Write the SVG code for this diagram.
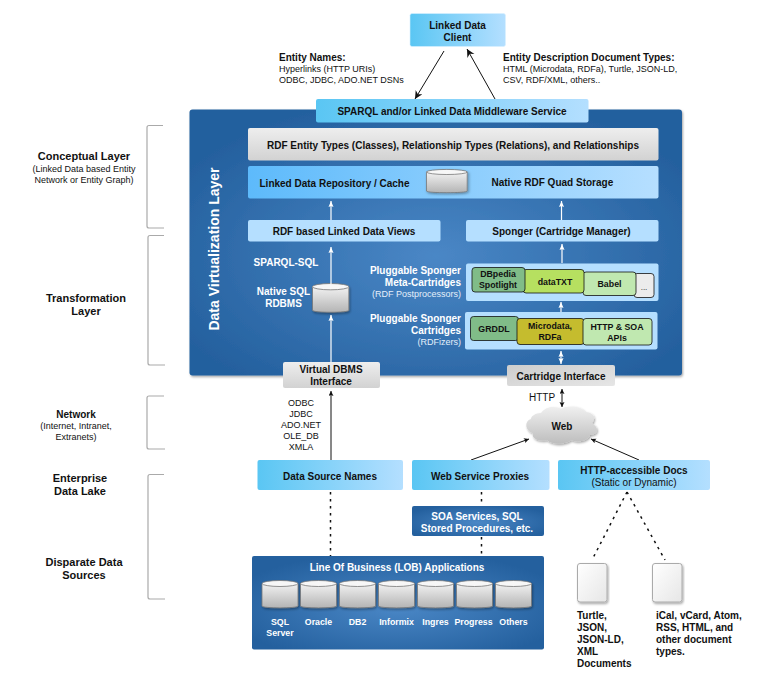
<svg xmlns="http://www.w3.org/2000/svg" xmlns:xlink="http://www.w3.org/1999/xlink" width="761" height="688" viewBox="0 0 761 688">
<style>
text{font-family:"Liberation Sans",Arial,sans-serif;font-size:10px;fill:#111}
.b{font-weight:bold}
.c{text-anchor:middle}
.e{text-anchor:end}
.w{fill:#fff}
.s{fill:#e4effa}
.n{font-size:8.8px}
.bk{fill:none;stroke:#aaa;stroke-width:1.2}
.a{fill:none;stroke:#111;stroke-width:1}
.wa{fill:none;stroke:#fff;stroke-width:1.2}
.d{fill:none;stroke:#111;stroke-width:1.5;stroke-dasharray:2.5 4.5}
.cart{stroke:#111;stroke-width:.8}
</style>
<defs>
<linearGradient id="lb" x1="0" y1="0" x2="1" y2="0"><stop offset="0" stop-color="#5ac6f3"/><stop offset="1" stop-color="#b4dfff"/></linearGradient>
<linearGradient id="repo" x1="0" y1="0" x2="1" y2="0"><stop offset="0" stop-color="#5dbafb"/><stop offset="1" stop-color="#b6dfff"/></linearGradient>
<linearGradient id="gr" x1="0" y1="0" x2="0" y2="1"><stop offset="0" stop-color="#eeeeee"/><stop offset="1" stop-color="#d2d2d2"/></linearGradient>
<linearGradient id="gr2" x1="0" y1="0" x2="1" y2="1"><stop offset="0" stop-color="#cdcdcd"/><stop offset="1" stop-color="#e6e6e6"/></linearGradient>
<linearGradient id="cy" x1="0" y1="0" x2="0" y2="1"><stop offset="0" stop-color="#f2f2f2"/><stop offset="1" stop-color="#b4b4b4"/></linearGradient>
<linearGradient id="cl" x1="0" y1="0" x2="0" y2="1"><stop offset="0" stop-color="#f0f0f0"/><stop offset="1" stop-color="#bdbdbd"/></linearGradient>
<linearGradient id="doc" x1="0" y1="0" x2="1" y2="1"><stop offset="0" stop-color="#ffffff"/><stop offset="1" stop-color="#e6e6e6"/></linearGradient>
<radialGradient id="bl" cx=".5" cy=".55" r=".6"><stop offset="0" stop-color="#4a87c6"/><stop offset="1" stop-color="#24609e"/></radialGradient>
<filter id="sh" x="-10%" y="-10%" width="120%" height="125%"><feDropShadow dx="1" dy="1.500" stdDeviation="1.200" flood-color="#000" flood-opacity=".35"/></filter>
<marker id="ah" markerWidth="9" markerHeight="9" refX="8" refY="4" orient="auto-start-reverse" markerUnits="userSpaceOnUse"><path d="M0 0L8 4L0 8L2.500 4Z" fill="#111"/></marker>
<marker id="as" markerWidth="6" markerHeight="6" refX="5" refY="2.500" orient="auto-start-reverse" markerUnits="userSpaceOnUse"><path d="M0 0L5 2.500L0 5L1 2.500Z" fill="#111"/></marker>
<marker id="wh" markerWidth="8" markerHeight="7" refX="6" refY="3" orient="auto-start-reverse" markerUnits="userSpaceOnUse"><path d="M0 .5L6 3L0 5.500L1 3Z" fill="#fff"/></marker>
<g id="cyl">
<path d="M0 3.500V26C0 28.500 36 28.500 36 26V3.500Z" fill="url(#cy)" stroke="#777" stroke-width=".8"/>
<ellipse cx="18" cy="3.500" rx="18" ry="3" fill="#f7f7f7" stroke="#777" stroke-width=".8"/>
</g>
</defs>

<g id="brackets">
<path class="bk" d="M163 125.500H149Q147 125.500 147 127.500V226Q147 228 149 228H164"/>
<path class="bk" d="M164 235.500H150Q148 235.500 148 237.500V363Q148 365 150 365H165"/>
<path class="bk" d="M164 396H149Q147 396 147 398V447Q147 449 149 449H165"/>
<path class="bk" d="M164 474.500H150Q148 474.500 148 476.500V597Q148 599 150 599H165"/>
</g>
<g id="layer-labels">
<text class="b c" x="84" y="160" style="font-size:11px">Conceptual Layer</text>
<text class="c" x="84" y="172" style="font-size:9px">(Linked Data based Entity</text>
<text class="c" x="84" y="183" style="font-size:9px">Network or Entity Graph)</text>
<text class="b c" x="86" y="302" style="font-size:11px">Transformation</text>
<text class="b c" x="86" y="315" style="font-size:11px">Layer</text>
<text class="b c" x="76" y="418">Network</text>
<text class="c" x="76" y="429" style="font-size:9px">(Internet, Intranet,</text>
<text class="c" x="76" y="440" style="font-size:9px">Extranets)</text>
<text class="b c" x="80" y="482" style="font-size:11px">Enterprise</text>
<text class="b c" x="80" y="495" style="font-size:11px">Data Lake</text>
<text class="b c" x="84" y="566" style="font-size:11px">Disparate Data</text>
<text class="b c" x="84" y="579" style="font-size:11px">Sources</text>
</g>

<g id="client"><rect x="410" y="13.500" width="95.500" height="33" rx="2" fill="url(#lb)" stroke="#d8f0ff" stroke-width=".6"/>
<text class="b c" x="457.500" y="29">Linked Data</text><text class="b c" x="457.500" y="41">Client</text></g>
<g id="entity-names"><text class="b" x="279" y="61">Entity Names:</text><text x="279" y="72" style="font-size:9px">Hyperlinks (HTTP URIs)</text><text x="279" y="83" style="font-size:9px">ODBC, JDBC, ADO.NET DSNs</text></g>
<g id="entity-docs"><text class="b" x="503" y="61">Entity Description Document Types:</text><text x="503" y="72" style="font-size:9px">HTML (Microdata, RDFa), Turtle, JSON-LD,</text><text x="503" y="83" style="font-size:9px">CSV, RDF/XML, others..</text></g>

<g id="virtualization-layer"><rect x="189.500" y="109.500" width="492.500" height="266" rx="3" fill="url(#bl)" filter="url(#sh)"/>
<text class="b c w" transform="translate(219 249) rotate(-90)" style="font-size:14px">Data Virtualization Layer</text></g>

<g id="middleware"><rect x="316" y="99" width="272.500" height="23.500" rx="2" fill="url(#lb)"/><text class="b c" x="452" y="115">SPARQL and/or Linked Data Middleware Service</text></g>
<g id="entity-types"><rect x="248" y="128" width="410.500" height="32.500" rx="2" fill="url(#gr)"/><text class="b c" x="453" y="149">RDF Entity Types (Classes), Relationship Types (Relations), and Relationships</text></g>
<g id="repository"><rect x="248" y="166" width="410.500" height="32.500" rx="2" fill="url(#repo)"/>
<text class="b" x="259.500" y="187">Linked Data Repository / Cache</text><text class="b" x="491.500" y="186">Native RDF Quad Storage</text>
<use xlink:href="#cyl" href="#cyl" transform="translate(426.500 169) scale(1.130 .85)" filter="url(#sh)"/></g>
<g id="linked-views"><rect x="248" y="220" width="192.500" height="21.500" rx="2" fill="#b5dfff"/><text class="b c" x="344" y="235">RDF based Linked Data Views</text></g>
<g id="sponger"><rect x="466" y="220" width="192.500" height="21.500" rx="2" fill="#b5dfff"/><text class="b c" x="561.500" y="235">Sponger (Cartridge Manager)</text></g>

<g id="sql-rdbms"><text class="b w c" x="286" y="266">SPARQL-SQL</text>
<text class="b w c" x="283.500" y="295">Native SQL</text><text class="b w c" x="283.500" y="307">RDBMS</text>
<use xlink:href="#cyl" href="#cyl" transform="translate(312.500 283) scale(1.010 1.050)" filter="url(#sh)"/></g>

<g id="meta-cartridges">
<text class="b e w" x="461" y="274">Pluggable Sponger</text><text class="b e w" x="461" y="286">Meta-Cartridges</text><text class="e s" x="461" y="297" style="font-size:9px">(RDF Postprocessors)</text>
<rect x="466" y="263.500" width="192.500" height="37.500" rx="2" fill="#b5dfff"/>
<rect class="cart" x="634" y="273.500" width="20" height="24" rx="3" fill="#ececec"/><text class="c" x="644" y="290" style="font-size:8px">...</text>
<rect class="cart" x="583" y="272" width="53" height="23.500" rx="3" fill="#c0e8b0"/><text class="c b n" x="609.500" y="287">Babel</text>
<rect class="cart" x="523" y="269.500" width="61" height="23.500" rx="3" fill="#b6e060"/><text class="c b n" x="555" y="285">dataTXT</text>
<rect class="cart" x="472" y="267.500" width="53" height="24.500" rx="3" fill="#80bc88"/><text class="c b n" x="498" y="277">DBpedia</text><text class="c b n" x="498" y="288">Spotlight</text>
</g>
<g id="cartridges">
<text class="b e w" x="461" y="322">Pluggable Sponger</text><text class="b e w" x="461" y="334">Cartridges</text><text class="e s" x="461" y="345" style="font-size:9px">(RDFizers)</text>
<rect x="465" y="312" width="192.500" height="37.500" rx="2" fill="#b5dfff"/>
<rect class="cart" x="470.500" y="316.500" width="48" height="24" rx="3" fill="#80bc88"/><text class="c b n" x="494" y="332">GRDDL</text>
<rect class="cart" x="517" y="318.500" width="67" height="26" rx="3" fill="#c5bc2e"/><text class="c b n" x="550" y="329">Microdata,</text><text class="c b n" x="550" y="340">RDFa</text>
<rect class="cart" x="583" y="318.500" width="69" height="26.500" rx="3" fill="#c0e8b0"/><text class="c b n" x="617" y="330">HTTP &amp; SOA</text><text class="c b n" x="617" y="341">APIs</text>
</g>
<g id="virtual-dbms"><rect x="283" y="362" width="97" height="26" rx="2" fill="url(#gr)"/><text class="b c" x="331" y="373">Virtual DBMS</text><text class="b c" x="331" y="385">Interface</text></g>
<g id="cartridge-interface"><rect x="507" y="365" width="108" height="21" rx="2" fill="url(#gr2)"/><text class="b c" x="561" y="380">Cartridge Interface</text></g>
<g id="protocols"><text class="c" x="301" y="406" style="font-size:9px">ODBC</text><text class="c" x="301" y="417" style="font-size:9px">JDBC</text><text class="c" x="301" y="428" style="font-size:9px">ADO.NET</text><text class="c" x="301" y="439" style="font-size:9px">OLE_DB</text><text class="c" x="301" y="450" style="font-size:9px">XMLA</text></g>
<g id="http-label"><text x="529" y="401">HTTP</text></g>
<g id="web"><path d="M541 413C546 406 556 406 561 409C568 405 581 406 585 412C593 412 597 418 592 423C599 428 599 434 590 435C588 441 577 443 571 440C565 445 552 445 547 440C538 442 531 438 533 433C525 431 524 421 531 419C531 416 536 413 541 413Z" fill="url(#cl)" filter="url(#sh)"/><text class="b c" x="562" y="430">Web</text></g>

<g id="connectors">
<path class="a" d="M444 51L415 99" marker-end="url(#ah)"/>
<path class="a" d="M495 99L467 49" marker-end="url(#ah)"/>
<path class="wa" d="M331 220V201" marker-end="url(#wh)"/>
<path class="wa" d="M561.500 220V201" marker-end="url(#wh)"/>
<path class="wa" d="M331 284V247" marker-end="url(#wh)"/>
<path class="wa" d="M562 263V244" marker-end="url(#wh)"/>
<path class="wa" d="M561 312V302" marker-end="url(#wh)"/>
<path class="wa" d="M331 362V315" marker-end="url(#wh)"/>
<path class="wa" d="M561 351V364" marker-start="url(#wh)" marker-end="url(#wh)"/>
<path class="a" d="M562 389V407" marker-start="url(#as)" marker-end="url(#as)"/>
<path class="a" d="M331 460V391" stroke-width="1.200" marker-end="url(#as)"/>
<path class="a" d="M471 460L529 439" marker-end="url(#as)"/>
<path class="a" d="M639 460L591 439" marker-end="url(#as)"/>
<path class="d" d="M330.500 492V556"/>
<path class="d" d="M481.500 492V506"/>
<path class="d" d="M481.500 537V556"/>
<path class="d" d="M627 492L592 560"/>
<path class="d" d="M627 492L665 560"/>
</g>

<g id="data-source-names"><rect x="257.500" y="460" width="145.500" height="30" rx="2" fill="url(#lb)"/><text class="b c" x="330" y="480">Data Source Names</text></g>
<g id="web-service-proxies"><rect x="412" y="460" width="137.500" height="30" rx="2" fill="url(#lb)"/><text class="b c" x="480" y="480">Web Service Proxies</text></g>
<g id="http-docs"><rect x="558" y="460" width="152" height="30" rx="2" fill="url(#lb)"/><text class="b c" x="634" y="474">HTTP-accessible Docs</text><text class="c" x="634" y="486">(Static or Dynamic)</text></g>
<g id="soa"><rect x="412" y="506" width="132" height="30" rx="2" fill="url(#bl)"/><text class="b c w" x="477" y="520">SOA Services, SQL</text><text class="b c w" x="477" y="532">Stored Procedures, etc.</text></g>
<g id="lob"><rect x="252" y="556" width="292" height="93.500" rx="2" fill="url(#bl)"/>
<text class="b c w" x="397" y="571">Line Of Business (LOB) Applications</text>
<g filter="url(#sh)"><use xlink:href="#cyl" href="#cyl" x="262" y="580"/><use xlink:href="#cyl" href="#cyl" x="300.500" y="580"/><use xlink:href="#cyl" href="#cyl" x="339.500" y="580"/><use xlink:href="#cyl" href="#cyl" x="378.500" y="580"/><use xlink:href="#cyl" href="#cyl" x="417.500" y="580"/><use xlink:href="#cyl" href="#cyl" x="456.500" y="580"/><use xlink:href="#cyl" href="#cyl" x="495.500" y="580"/></g>
<text class="b c w n" x="280" y="625">SQL</text><text class="b c w n" x="280" y="636">Server</text><text class="b c w n" x="318.500" y="625">Oracle</text><text class="b c w n" x="357.500" y="625">DB2</text><text class="b c w n" x="396.500" y="625">Informix</text><text class="b c w n" x="435.500" y="625">Ingres</text><text class="b c w n" x="473.500" y="625">Progress</text><text class="b c w n" x="513.500" y="625">Others</text></g>
<g id="doc-1"><rect x="577.500" y="563.500" width="29.500" height="38.500" rx="2.500" fill="url(#doc)" stroke="#aaa" filter="url(#sh)"/>
<text class="b" x="577" y="619">Turtle,</text><text class="b" x="577" y="631">JSON,</text><text class="b" x="577" y="643">JSON-LD,</text><text class="b" x="577" y="655">XML</text><text class="b" x="577" y="667">Documents</text></g>
<g id="doc-2"><rect x="652.500" y="563.500" width="29.500" height="38.500" rx="2.500" fill="url(#doc)" stroke="#aaa" filter="url(#sh)"/>
<text class="b" x="656" y="619">iCal, vCard, Atom,</text><text class="b" x="656" y="631">RSS, HTML, and</text><text class="b" x="656" y="643">other document</text><text class="b" x="656" y="655">types.</text></g>
</svg>
